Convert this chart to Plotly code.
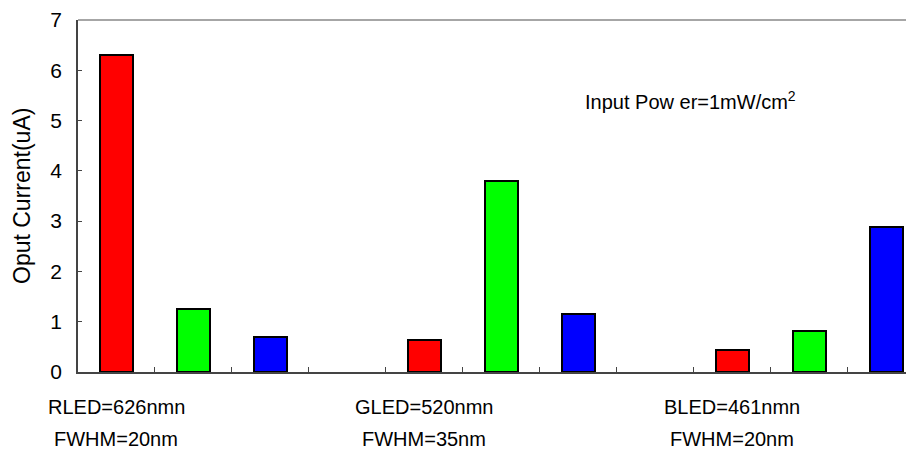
import plotly.graph_objects as go

groups_line1 = ["RLED=626nmn", "GLED=520nmn", "BLED=461nmn"]
groups_line2 = ["FWHM=20nm", "FWHM=35nm", "FWHM=20nm"]
series_names = ["Red", "Green", "Blue"]
red_values = [6.3, 0.64, 0.43]
green_values = [1.25, 3.79, 0.82]
blue_values = [0.69, 1.16, 2.89]
series_colors = ["#FF0000", "#00FF00", "#0000FF"]
y_ticks = [0, 1, 2, 3, 4, 5, 6, 7]

FONT = "Liberation Sans, Arial, sans-serif"
slots_per_group = 4

fig = go.Figure()
for s, (name, vals, col) in enumerate(zip(series_names, [red_values, green_values, blue_values], series_colors)):
    xs = [g * slots_per_group + s for g in range(len(vals))]
    fig.add_trace(go.Bar(
        x=xs, y=vals, name=name, width=0.43,
        marker=dict(color=col, line=dict(color="black", width=2)),
        showlegend=False,
    ))

n_slots = len(groups_line1) * slots_per_group - 1
tick_positions = [i + 0.5 for i in range(n_slots - 1)]

# page body has an 8px margin, so the figure is sized/padded to compensate
fig.update_layout(
    width=906, height=447,
    margin=dict(l=70, r=0, t=8, b=83),
    paper_bgcolor="white", plot_bgcolor="white",
    font=dict(family=FONT, size=20, color="black"),
    bargap=0,
    xaxis=dict(
        range=[-0.5, 10.36], tickvals=tick_positions, showticklabels=False,
        ticks="inside", ticklen=5, tickcolor="#444", tickwidth=1,
        showline=True, linecolor="#444", linewidth=1.5, mirror=False,
        showgrid=False, zeroline=False,
    ),
    yaxis=dict(
        range=[0, 7], tickvals=y_ticks, ticks="inside", ticklen=4, tickcolor="#444",
        showline=True, linecolor="#444", linewidth=1.5, mirror=False,
        showgrid=False, zeroline=False, ticklabelstandoff=10,
        ticklabeloverflow="allow",
        tickfont=dict(size=21),
    ),
)

# top frame line
fig.add_shape(type="line", xref="paper", yref="paper", x0=0, x1=1, y0=1, y1=1,
              line=dict(color="#888", width=1.5))

fig.add_annotation(text="Oput Current(uA)", textangle=-90, xref="paper", yref="paper",
                   x=0, y=0.5, xanchor="center", yanchor="middle", xshift=-56,
                   showarrow=False, font=dict(size=23))

for g in range(len(groups_line1)):
    xc = g * slots_per_group
    fig.add_annotation(text=groups_line1[g], x=xc, y=0, yref="paper", xanchor="center",
                       yanchor="middle", yshift=-35, showarrow=False, font=dict(size=20))
    fig.add_annotation(text=groups_line2[g], x=xc, y=0, yref="paper", xanchor="center",
                       yanchor="middle", yshift=-67, showarrow=False, font=dict(size=20))

fig.add_annotation(text="Input Pow er=1mW/cm<sup>2</sup>", x=(583 - 78) / 77 - 0.5, xref="x",
                   xanchor="left", y=(372 - 97) / 356, yref="paper", yanchor="middle",
                   showarrow=False, font=dict(size=20))

fig.write_html("out.html")
